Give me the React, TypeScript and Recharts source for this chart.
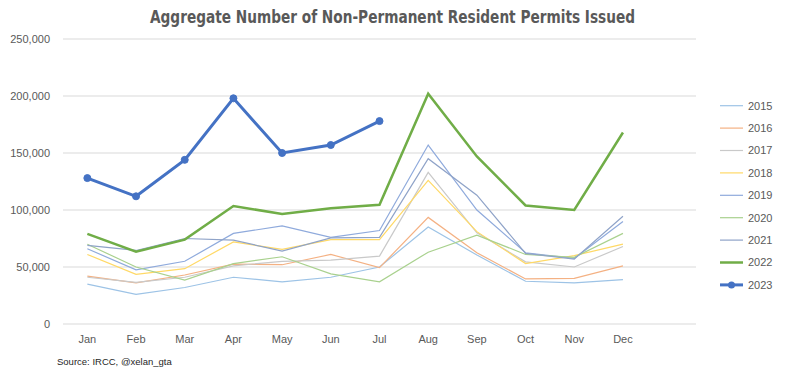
import React from 'react';
import { LineChart, Line, XAxis, YAxis, CartesianGrid } from 'recharts';

const months = ['Jan', 'Feb', 'Mar', 'Apr', 'May', 'Jun', 'Jul', 'Aug', 'Sep', 'Oct', 'Nov', 'Dec', ''];
const yTicks = [0, 50000, 100000, 150000, 200000, 250000];

const s2015 = [35000, 26000, 32000, 41000, 37000, 41000, 50000, 85000, 60500, 37500, 36000, 39000];
const s2016 = [42000, 36000, 43000, 52500, 52000, 61000, 49500, 93500, 62500, 39500, 40000, 51000];
const s2017 = [41000, 36500, 41000, 51000, 55000, 56000, 59500, 133000, 80000, 54500, 50000, 68000];
const s2018 = [61000, 43500, 48500, 72000, 65500, 74000, 74000, 126000, 81000, 53000, 60000, 70000];
const s2019 = [66000, 47500, 55000, 79500, 86000, 76000, 82000, 157000, 100000, 62500, 57500, 90000];
const s2020 = [70000, 50000, 38500, 53000, 59000, 44000, 37000, 63000, 78000, 61000, 58500, 79500];
const s2021 = [69000, 64500, 75000, 73500, 64000, 75500, 76000, 145000, 113000, 62000, 57000, 94500];
const s2022 = [79000, 63500, 74000, 103500, 96500, 101500, 104500, 202000, 147000, 104000, 100000, 168000];
const s2023 = [128000, 112000, 144000, 198000, 150000, 157000, 178000];

const seriesList = [
  { key: 'y2015', name: '2015', values: s2015, color: '#9DC3E6', width: 1.2 },
  { key: 'y2016', name: '2016', values: s2016, color: '#F4B183', width: 1.2 },
  { key: 'y2017', name: '2017', values: s2017, color: '#C9C9C9', width: 1.2 },
  { key: 'y2018', name: '2018', values: s2018, color: '#FFD966', width: 1.2 },
  { key: 'y2019', name: '2019', values: s2019, color: '#8FAADC', width: 1.2 },
  { key: 'y2020', name: '2020', values: s2020, color: '#A9D18E', width: 1.2 },
  { key: 'y2021', name: '2021', values: s2021, color: '#8FA3C8', width: 1.2 },
  { key: 'y2022', name: '2022', values: s2022, color: '#70AD47', width: 2.5 },
  { key: 'y2023', name: '2023', values: s2023, color: '#4472C4', width: 3 },
];

const data = months.map((m, i) => {
  const row: Record<string, any> = { month: m };
  seriesList.forEach((s) => {
    row[s.key] = s.values[i] !== undefined ? s.values[i] : null;
  });
  return row;
});

const FONT = '"Liberation Sans", Arial, sans-serif';

const fmt = (v: number) => (v === 0 ? '0' : v.toLocaleString('en-US'));

export default function App() {
  return (
    <div style={{ position: 'absolute', left: 0, top: 0, width: 785, height: 372, background: '#fff' }}>
      <LineChart
        width={785}
        height={372}
        data={data}
        margin={{ top: 39, right: 89, bottom: 18, left: 0 }}
        style={{ fontFamily: FONT }}
      >
        <CartesianGrid vertical={false} stroke="#D9D9D9" strokeWidth={1} />
        <XAxis
          dataKey="month"
          interval={0}
          axisLine={false}
          tickLine={false}
          height={30}
          tickMargin={5}
          padding={{ left: 24.35, right: 24.35 }}
          tick={{ fill: '#595959', fontSize: 11 }}
        />
        <YAxis
          domain={[0, 250000]}
          ticks={yTicks}
          tickFormatter={fmt}
          axisLine={false}
          tickLine={false}
          width={63}
          tickMargin={7}
          tick={{ fill: '#595959', fontSize: 11 }}
        />
        {seriesList.map((s) => (
          <Line
            key={s.key}
            dataKey={s.key}
            name={s.name}
            type="linear"
            stroke={s.color}
            strokeWidth={s.width}
            dot={s.key === 'y2023' ? { r: 3.5, fill: s.color, stroke: s.color, strokeWidth: 1 } : false}
            activeDot={false}
            isAnimationActive={false}
          />
        ))}
      </LineChart>
      <svg
        width={785}
        height={372}
        style={{ position: 'absolute', left: 0, top: 0, pointerEvents: 'none' }}
      >
        <text
          x={392.5}
          y={23}
          textAnchor="middle"
          fontSize={18}
          fontWeight="bold"
          fill="#595959"
          fontFamily={'"Liberation Sans Narrow", "DejaVu Sans Condensed", "Liberation Sans", sans-serif'}
          textLength={485}
          lengthAdjust="spacingAndGlyphs"
        >
          Aggregate Number of Non-Permanent Resident Permits Issued
        </text>
        <text x={57} y={365} fontSize={9.5} fill="#262626" fontFamily={FONT}>
          Source: IRCC, @xelan_gta
        </text>
        {seriesList.map((s, i) => {
          const cy = 105.7 + i * 22.4;
          return (
            <g key={s.key}>
              <line x1={720} x2={743} y1={cy} y2={cy} stroke={s.color} strokeWidth={s.width} />
              {s.key === 'y2023' && <circle cx={731.5} cy={cy} r={3.5} fill={s.color} />}
              <text x={748} y={cy} dy="0.35em" fontSize={11} fill="#595959" fontFamily={FONT}>
                {s.name}
              </text>
            </g>
          );
        })}
      </svg>
    </div>
  );
}
